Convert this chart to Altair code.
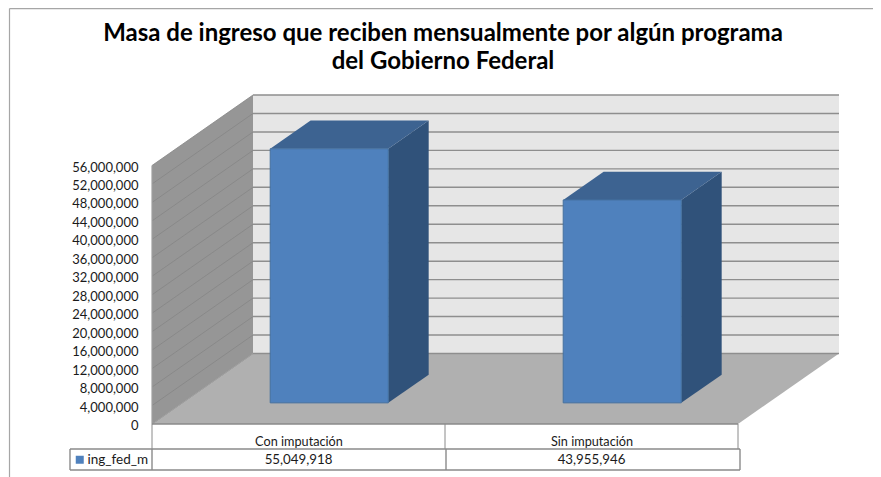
import altair as alt
import pandas as pd

# --- data ---
categories = ["Con imputación", "Sin imputación"]
series_name = "ing_fed_m"
series_values = [55049918, 43955946]
tick_values = [0, 4000000, 8000000, 12000000, 16000000, 20000000, 24000000, 28000000,
               32000000, 36000000, 40000000, 44000000, 48000000, 52000000, 56000000]
title_lines = ["Masa de ingreso que reciben mensualmente por algún programa",
               "del Gobierno Federal"]

# --- oblique projection: category position, value, depth (0 front .. 1 back) ---
PX_CAT = 293.0                 # pixels per category
PX_VAL = 258.5 / 56000000      # pixels per unit of value
DX = 101.0 / PX_CAT            # x shift of full depth, category units
DY = 70.5 / PX_VAL             # y shift of full depth, value units
W, H = 688, 329
AX = "#8a8a8a"
FONT = "Lato"


def pxx(px):   # page x -> category units
    return (px - 152) / PX_CAT


def pxy(py):   # page y -> value units
    return (424 - py) / PX_VAL


X = alt.Scale(domain=[0, W / PX_CAT], nice=False, zero=False)
Y = alt.Scale(domain=[0, H / PX_VAL], nice=False, zero=False)
X_AXIS = alt.Axis(values=[0.5, 1.5], title=None, ticks=False, domain=False, grid=False, labelPadding=11,
                  labelFont=FONT, labelFontSize=12.7, labelColor="#1a1a1a", labelAngle=0,
                  labelExpr=f"datum.value < 1 ? '{categories[0]}' : '{categories[1]}'")
Y_AXIS = alt.Axis(values=tick_values, title=None, ticks=False, domain=False, grid=False,
                  labelExpr="format(datum.value, ',')", labelOffset=1.5,
                  labelPadding=14, labelFont=FONT, labelFontSize=13, labelColor="#1a1a1a")
xq = lambda f, **k: alt.X(f, type="quantitative", scale=X, axis=X_AXIS, **k)
yq = lambda f, **k: alt.Y(f, type="quantitative", scale=Y, axis=Y_AXIS, **k)
x2 = lambda f: alt.X2(f)
y2 = lambda f: alt.Y2(f)
v = tick_values[-1]

# ---- walls ----
back_wall = alt.Chart(pd.DataFrame([{"x": DX, "x2": 2 + DX, "y": DY, "y2": v + DY}])).mark_rect(
    color="#E6E6E6").encode(xq("x"), x2("x2"), yq("y"), y2("y2"))
side_wall = alt.Chart(pd.DataFrame([{"x": d * DX, "y": v + d * DY, "y2": d * DY} for d in (0, 1)])).mark_area(
    color="#969696", opacity=1).encode(xq("x"), yq("y"), y2("y2"))
floor = alt.Chart(pd.DataFrame([{"y": d * DY, "x": d * DX, "x2": 2 + d * DX} for d in (0, 1)])).mark_area(
    orient="horizontal", color="#B0B0B0", opacity=1).encode(yq("y"), xq("x"), x2("x2"))

back_grid = alt.Chart(pd.DataFrame({"y": [t + DY for t in tick_values], "x": DX, "x2": 2 + DX})).mark_rule(
    color="#8E8E8E", strokeWidth=1.4).encode(xq("x"), x2("x2"), yq("y"))
side_rows = []
for t in tick_values:
    for d in (0, 1):
        side_rows.append({"t": t, "x": d * DX, "y": t + d * DY})
side_grid = alt.Chart(pd.DataFrame(side_rows)).mark_line(color="#858585", strokeWidth=0.8).encode(
    xq("x"), yq("y"), detail="t:N")
wall_edge = alt.Chart(pd.DataFrame([{"x": 0, "y": 0, "y2": v}])).mark_rule(
    color="#A0A0A0", strokeWidth=1.2).encode(xq("x"), yq("y"), y2("y2"))
floor_edge = alt.Chart(pd.DataFrame([{"x": d * DX, "y": d * DY} for d in (0, 1)])).mark_line(
    color="#A0A0A0", strokeWidth=1).encode(xq("x"), yq("y"))

# ---- bars: depth 0.3 to 0.7, category span 0.3 to 0.7 ----
D0, D1, C0, C1 = 0.3, 0.7, 0.30, 0.703
side_r, top_r, front_r = [], [], []
for i, val in enumerate(series_values):
    for d in (D0, D1):
        side_r.append({"b": i, "x": i + C1 + d * DX, "y": val + d * DY, "y2": d * DY})
        top_r.append({"b": i, "y": val + d * DY, "x": i + C0 + d * DX, "x2": i + C1 + d * DX})
    front_r.append({"b": i, "x": i + C0 + D0 * DX, "x2": i + C1 + D0 * DX,
                    "y": val + D0 * DY, "y2": D0 * DY, "series": series_name})
bar_side = alt.Chart(pd.DataFrame(side_r)).mark_area(color="#30527A", opacity=1).encode(
    xq("x"), yq("y"), y2("y2"), detail="b:N")
bar_top = alt.Chart(pd.DataFrame(top_r)).mark_area(orient="horizontal", color="#3D6391", opacity=1).encode(
    yq("y"), xq("x"), x2("x2"), detail="b:N")
bar_front = alt.Chart(pd.DataFrame(front_r)).mark_rect(stroke="#44709F", strokeWidth=1).encode(
    xq("x"), x2("x2"), yq("y"), y2("y2"),
    color=alt.Color("series:N", scale=alt.Scale(domain=[series_name], range=["#4F81BD"]),
                    legend=alt.Legend(orient="none", legendX=-79, legendY=358, title=None,
                                      symbolType="square", symbolSize=64, symbolStrokeWidth=0,
                                      labelFont=FONT, labelFontSize=13.5, labelColor="#1a1a1a",
                                      labelOffset=1)))

# ---- data table under the chart ----
T1, T2, T3 = pxy(424), pxy(449), pxy(470)
L, M1, M2, R = pxx(70), 0.0, pxx(446), pxx(740)
thin = [dict(x=0, y=T1, y2=T2), dict(x=1, y=T1, y2=T2), dict(x=2, y=T1, y2=T2)]
thick_v = [dict(x=k, y=T2, y2=T3) for k in (L, M1, M2, R)]
table_thin = alt.Chart(pd.DataFrame(thin)).mark_rule(color=AX, strokeWidth=1).encode(
    xq("x"), yq("y"), y2("y2"))
table_v = alt.Chart(pd.DataFrame(thick_v)).mark_rule(color=AX, strokeWidth=1.4).encode(
    xq("x"), yq("y"), y2("y2"))
table_h = alt.Chart(pd.DataFrame([dict(x=L, x2=R, y=T2), dict(x=L, x2=R, y=T3),
                                  dict(x=0, x2=2, y=T1)])).mark_rule(color=AX, strokeWidth=1.4).encode(
    xq("x"), x2("x2"), yq("y"))
table_text = alt.Chart(pd.DataFrame({"x": [0.5, 1.5], "y": (T2 + T3) / 2, "value": series_values})).mark_text(
    font=FONT, fontSize=13.3, color="#1a1a1a", baseline="middle").encode(
    xq("x"), yq("y"), text=alt.Text("value:Q", format=","))

# ---- outer frame of the pasted picture ----
frame = alt.Chart(pd.DataFrame([dict(x=pxx(9.5), x2=pxx(873), y=pxy(8.6), y2=pxy(8.6)),
                                dict(x=pxx(9.5), x2=pxx(9.5), y=pxy(8.6), y2=pxy(477))])).mark_rule(
    color="#A6A6A6", strokeWidth=1.2).encode(xq("x"), x2("x2"), yq("y"), y2("y2"))

chart = alt.layer(
    frame, back_wall, floor, side_wall, back_grid, side_grid, wall_edge, floor_edge,
    bar_side, bar_top, bar_front, table_thin, table_v, table_h, table_text
).properties(
    width=W, height=H,
    title=alt.TitleParams(text=title_lines, font=FONT, fontSize=24, fontWeight="bold", color="#000000",
                          anchor="middle", lineHeight=28, dx=-53, offset=-66),
    autosize=alt.AutoSizeParams(type="none"),
    padding={"left": 144, "top": 87, "right": 33, "bottom": 53},
).configure_view(stroke=None)

chart.save("out.html", embed_options={"renderer": "svg", "actions": False})
